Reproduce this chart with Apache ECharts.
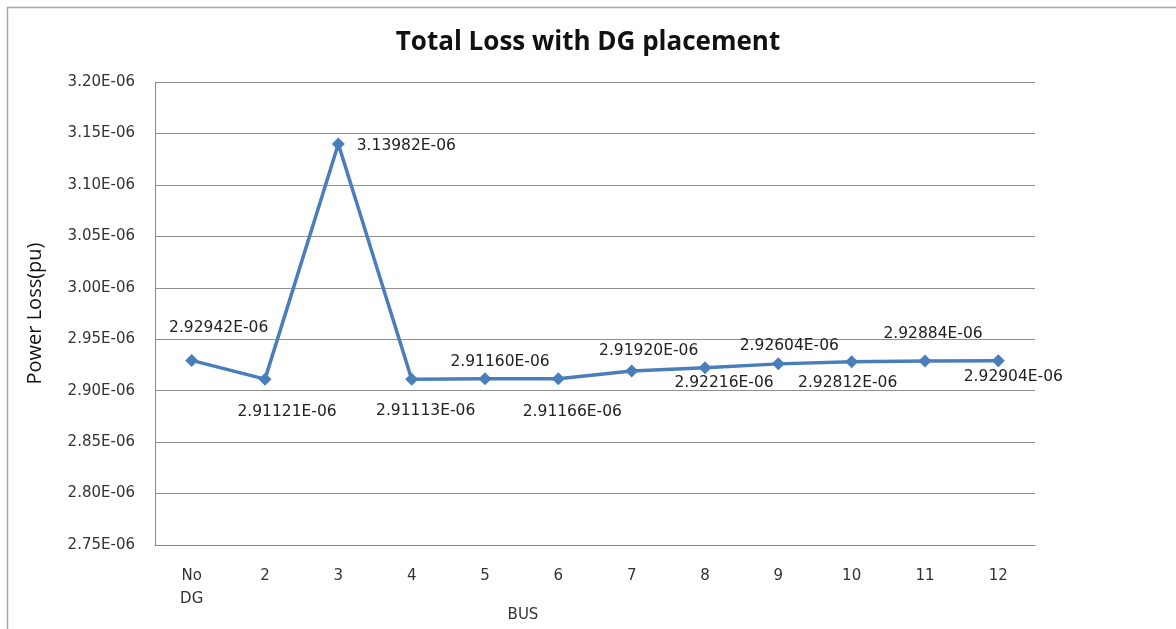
<!DOCTYPE html>
<html>
<head>
<meta charset="utf-8">
<title>Total Loss with DG placement</title>
<script src="https://cdn.jsdelivr.net/npm/echarts@6/dist/echarts.min.js"></script>
<style>
  html, body { margin: 0; padding: 0; background: #fff; }
  #chart { width: 1176px; height: 629px; }
</style>
</head>
<body>
<div id="chart"></div>
<script>
// bus where DG is placed
const buses = ['No\nDG', '2', '3', '4', '5', '6', '7', '8', '9', '10', '11', '12'];
// total power loss (pu)
const lossValues = [2.92942e-6, 2.91121e-6, 3.13982e-6, 2.91113e-6, 2.91160e-6, 2.91166e-6,
                    2.91920e-6, 2.92216e-6, 2.92604e-6, 2.92812e-6, 2.92884e-6, 2.92904e-6];
const yMin = 2.75e-6;
const yMax = 3.20e-6;
const yStep = 0.05e-6;

// where each value label sits relative to its marker (px)
const labelOffsets = [[27, -32], [22, 33], [68, 2], [14, 32], [15, -17], [14, 33],
                      [17, -20], [19, 15], [11, -18], [-4, 21], [8, -27], [15, 16]];

const sci = v => {
    const parts = v.toExponential(2).split('e');
    const ex = Number(parts[1]);
    return parts[0] + 'E' + (ex < 0 ? '-' : '+') + String(Math.abs(ex)).padStart(2, '0');
};

const chart = echarts.init(document.getElementById('chart'));

const seriesData = lossValues.map((v, i) => ({
    value: v,
    label: { offset: labelOffsets[i] }
}));

const option = {
    backgroundColor: '#fff',
    animation: false,
    title: {
        text: 'Total Loss with DG placement',
        left: 'center',
        top: 25,
        textStyle: { fontFamily: 'Open Sans', fontWeight: 'bold', fontSize: 26, color: '#111' }
    },
    graphic: [{
        type: 'rect',
        shape: { x: 7.5, y: 7.5, width: 1300, height: 800 },
        style: { fill: 'none', stroke: '#a6a6a6', lineWidth: 1.5 },
        silent: true
    }],
    grid: { left: 155, right: 141, top: 82, bottom: 84, outerBoundsMode: 'none' },
    xAxis: {
        type: 'category',
        data: buses,
        boundaryGap: true,
        name: 'BUS',
        nameLocation: 'middle',
        nameGap: 63,
        nameMoveOverlap: false,
        nameTextStyle: { fontFamily: 'DejaVu Sans', fontSize: 15, color: '#333', padding: [0, 144, 0, 0] },
        axisLine: { lineStyle: { color: '#8a8a8a', width: 1 } },
        axisTick: { show: false },
        axisLabel: {
            fontFamily: 'DejaVu Sans', fontSize: 15, color: '#333',
            margin: 20, lineHeight: 23
        }
    },
    yAxis: {
        type: 'value',
        min: yMin,
        max: yMax,
        interval: yStep,
        name: 'Power Loss(pu)',
        nameLocation: 'middle',
        nameGap: 110,
        nameMoveOverlap: false,
        nameTextStyle: { fontFamily: 'Open Sans', fontSize: 20, color: '#111' },
        axisLine: { show: true, lineStyle: { color: '#8a8a8a', width: 1 } },
        axisTick: { show: false },
        splitLine: { lineStyle: { color: '#8f8f8f', width: 1 } },
        axisLabel: {
            fontFamily: 'DejaVu Sans', fontSize: 15, color: '#333', margin: 20,
            formatter: sci
        }
    },
    series: [{
        type: 'line',
        data: seriesData,
        symbol: 'diamond',
        symbolSize: 13,
        itemStyle: { color: '#4a7ebb' },
        lineStyle: { color: '#4a7ebb', width: 3.5 },
        label: {
            show: true,
            position: 'inside',
            align: 'center',
            verticalAlign: 'middle',
            fontFamily: 'DejaVu Sans',
            fontSize: 15.5,
            color: '#222',
            formatter: p => (p.value * 1e6).toFixed(5) + 'E-06'
        }
    }]
};

chart.setOption(option);
</script>
</body>
</html>
